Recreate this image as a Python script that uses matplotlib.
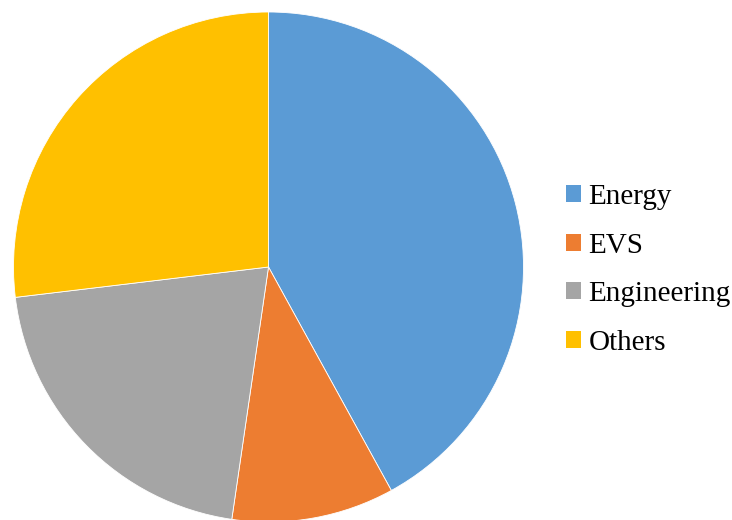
import matplotlib
matplotlib.use("Agg")
import matplotlib.pyplot as plt

categories = ["Energy", "EVS", "Engineering", "Others"]
values = [42, 10.3, 20.8, 26.9]
colors = ["#5B9BD5", "#ED7D31", "#A5A5A5", "#FFC000"]

plt.rcParams['font.family'] = ['Liberation Serif', 'DejaVu Serif']

fig = plt.figure(figsize=(7.32, 5.2), dpi=100)
W, H = 732, 520
cx, cy, r = 268.5, 267, 255
ax = fig.add_axes([(cx - r) / W, (H - cy - r) / H, 2 * r / W, 2 * r / H])
wedges, _ = ax.pie(values, colors=colors, startangle=90, counterclock=False,
                   radius=1.0, wedgeprops=dict(edgecolor="white", linewidth=0.6))
ax.set_xlim(-1, 1)
ax.set_ylim(-1, 1)
ax.set_aspect("equal")
ax.axis("off")

leg = fig.legend(wedges, categories, loc="center left",
                 bbox_to_anchor=(566 / W, 1 - 270 / H), frameon=False,
                 fontsize=21, handlelength=0.52, handleheight=0.52,
                 handletextpad=0.25, labelspacing=0.77, borderaxespad=0,
                 borderpad=0)
for h in leg.legend_handles:
    h.set_edgecolor("none")
fig.savefig("out.png", dpi=100)
